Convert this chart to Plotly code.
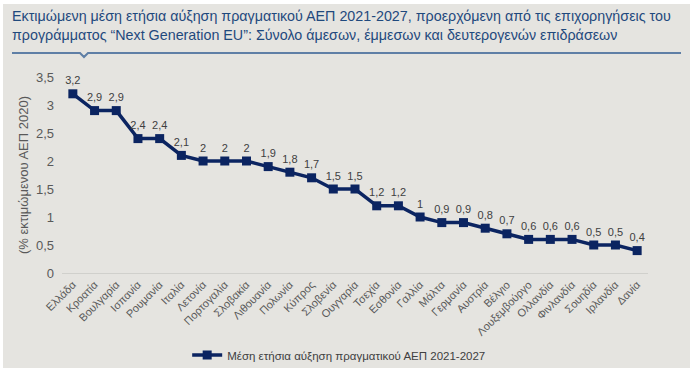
import plotly.graph_objects as go

countries = ["Ελλάδα", "Κροατία", "Βουλγαρία", "Ισπανία", "Ρουμανία", "Ιταλία", "Λετονία",
             "Πορτογαλία", "Σλοβακία", "Λιθουανία", "Πολωνία", "Κύπρος", "Σλοβενία", "Ουγγαρία",
             "Τσεχία", "Εσθονία", "Γαλλία", "Μάλτα", "Γερμανία", "Αυστρία", "Βέλγιο",
             "Λουξεμβούργο", "Ολλανδία", "Φινλανδία", "Σουηδία", "Ιρλανδία", "Δανία"]
growth = [3.2, 2.9, 2.9, 2.4, 2.4, 2.1, 2.0, 2.0, 2.0, 1.9, 1.8, 1.7, 1.5, 1.5,
          1.2, 1.2, 1.0, 0.9, 0.9, 0.8, 0.7, 0.6, 0.6, 0.6, 0.5, 0.5, 0.4]
y_ticks = [0, 0.5, 1, 1.5, 2, 2.5, 3, 3.5]
y_tick_labels = ["0", "0,5", "1", "1,5", "2", "2,5", "3", "3,5"]

series_name = "Μέση ετήσια αύξηση πραγματικού ΑΕΠ 2021-2027"
title_text = ("Εκτιμώμενη μέση ετήσια αύξηση πραγματικού ΑΕΠ 2021-2027, προερχόμενη από τις επιχορηγήσεις του<br>"
              "προγράμματος “Next Generation EU”: Σύνολο άμεσων, έμμεσων και δευτερογενών επιδράσεων")

labels = [("%g" % v).replace(".", ",") for v in growth]

NAVY = "#0B2461"
BG = "#E5E4E0"
FONT = "Liberation Sans, Arial, sans-serif"

fig = go.Figure()
fig.add_trace(go.Scatter(
    x=countries, y=growth, mode="lines+markers+text", name=series_name,
    line=dict(color=NAVY, width=3.5),
    marker=dict(symbol="square", size=9, color=NAVY),
    text=labels, textposition="top center",
    textfont=dict(size=11, color="#404040", family=FONT),
    cliponaxis=False,
))

# plot-area pixel geometry
L, R, T, B = 62, 52, 77, 103
W, H = 700, 376
pw, ph = W - L - R, H - T - B

def px(x):
    return (x - L) / pw

def py(y):
    return (H - B - y) / ph

shapes = [
    dict(type="rect", xref="paper", yref="paper", x0=px(3), x1=px(690), y0=py(368), y1=py(4),
         fillcolor=BG, line=dict(width=0), layer="below"),
    dict(type="path", xref="paper", yref="paper",
         path=f"M {px(12)},{py(53)} L {px(80)},{py(53)} L {px(84)},{py(57)} L {px(88)},{py(53)} L {px(681)},{py(53)}",
         line=dict(color="#5F7FA6", width=2)),
]

fig.update_layout(
    width=W, height=H,
    margin=dict(l=L, r=R, t=T, b=B, autoexpand=False),
    paper_bgcolor="white", plot_bgcolor=BG,
    font=dict(family=FONT, color="#595959"),
    shapes=shapes,
    showlegend=True,
    legend=dict(orientation="h", x=0.473, xanchor="center", y=py(355), yanchor="middle",
                yref="paper", bgcolor="rgba(0,0,0,0)",
                font=dict(size=11.5, color="#404040", family=FONT)),
    annotations=[dict(text=title_text, xref="paper", yref="paper", x=px(10), y=py(6),
                      xanchor="left", yanchor="top", align="left", showarrow=False,
                      font=dict(size=14.3, color="#1F497D", family=FONT))],
    xaxis=dict(type="category", range=[-0.5, len(countries) - 0.5], tickangle=-45,
               tickfont=dict(size=11, color="#595959"),
               showgrid=False, showline=True, linecolor="#D0D0CC", ticks="", zeroline=False,
               automargin=False),
    yaxis=dict(range=[0, 3.5], tickvals=y_ticks, ticktext=y_tick_labels,
               tickfont=dict(size=13, color="#595959"), showgrid=False, zeroline=False,
               showline=False, ticks="", automargin=False, ticklabelstandoff=7,
               title=dict(text="(% εκτιμώμενου ΑΕΠ 2020)", font=dict(size=13, color="#595959"), standoff=4)),
)

fig.write_html("out.html", config={"displayModeBar": False},
               post_script="document.body.style.margin='0';document.body.style.padding='0';")
